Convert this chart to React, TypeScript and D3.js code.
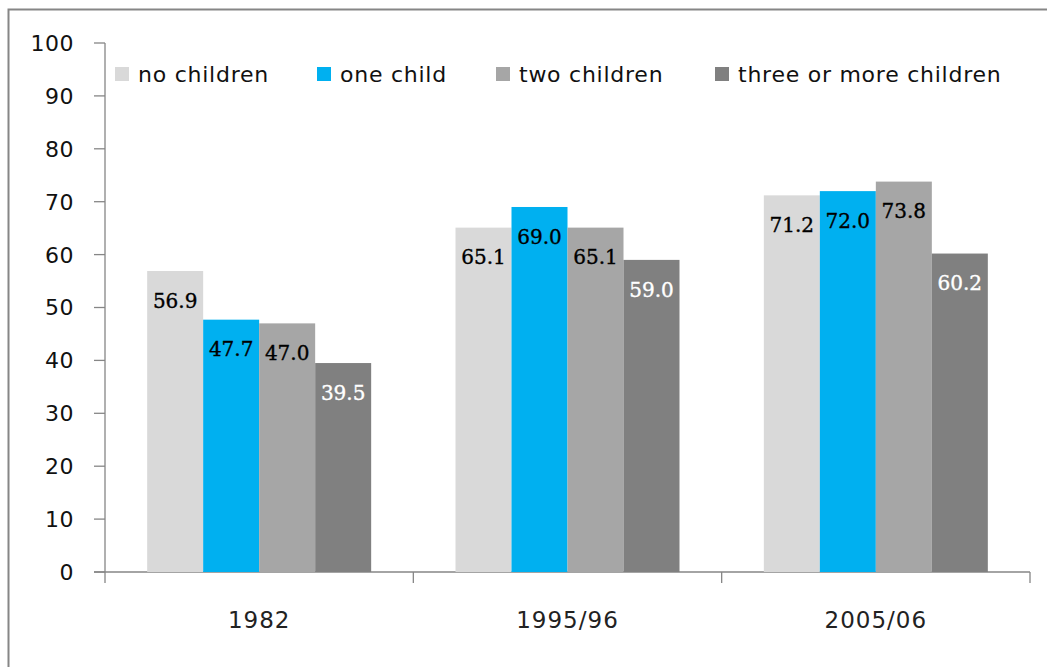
import React from "react";
import * as d3 from "d3";

const categories = ["1982", "1995/96", "2005/06"];
const seriesNames = ["no children", "one child", "two children", "three or more children"];
const noChildren = [56.9, 65.1, 71.2];
const oneChild = [47.7, 69.0, 72.0];
const twoChildren = [47.0, 65.1, 73.8];
const threeOrMore = [39.5, 59.0, 60.2];
const yTicks = [0, 10, 20, 30, 40, 50, 60, 70, 80, 90, 100];

const colors = ["#D9D9D9", "#00B0F0", "#A6A6A6", "#808080"];
const labelColors = ["#000", "#000", "#000", "#fff"];
const legendX = [115, 317, 496, 715];

export default function App() {
  const W = 1047, H = 667;
  const left = 105, right = 1030, top = 43, bottom = 572;
  const series = [noChildren, oneChild, twoChildren, threeOrMore];
  const x0 = d3.scaleBand().domain(categories).range([left, right]).paddingInner(0).paddingOuter(0);
  const barW = 56;
  const y = d3.scaleLinear().domain([0, 100]).range([bottom, top]);
  const font = "'DejaVu Sans', sans-serif";
  const axisColor = "#868686";

  return (
    <svg width={W} height={H} style={{ position: "absolute", left: 0, top: 0, background: "#fff" }}>
      <rect x={8.5} y={9.5} width={W + 20} height={H + 20} fill="none" stroke="#868686" strokeWidth={2} />
      {/* y axis */}
      <line x1={left} x2={left} y1={top} y2={bottom} stroke={axisColor} strokeWidth={1.3} />
      {yTicks.map((t) => (
        <g key={t}>
          <line x1={94} x2={left} y1={y(t)} y2={y(t)} stroke={axisColor} strokeWidth={1.3} />
          <text x={74} y={y(t)} dy="0.36em" textAnchor="end" fontFamily={font} fontSize={22} letterSpacing={0.5} fill="#111">
            {t}
          </text>
        </g>
      ))}
      {/* x axis */}
      <line x1={94} x2={right} y1={bottom} y2={bottom} stroke={axisColor} strokeWidth={1.3} />
      {[...categories.map((c) => x0(c)!), right].map((xv, i) => (
        <line key={i} x1={xv} x2={xv} y1={bottom} y2={bottom + 11} stroke={axisColor} strokeWidth={1.3} />
      ))}
      {categories.map((c) => (
        <text key={c} x={x0(c)! + x0.bandwidth() / 2} y={620} dy="0.36em" textAnchor="middle" fontFamily={font} fontSize={23} letterSpacing={1} fill="#222">
          {c}
        </text>
      ))}
      {/* bars */}
      {series.map((vals, si) =>
        vals.map((v, ci) => {
          const bx = x0(categories[ci])! + (x0.bandwidth() - barW * 4) / 2 + si * barW;
          return (
            <g key={`${si}-${ci}`}>
              <rect x={bx} y={y(v)} width={barW} height={bottom - y(v)} fill={colors[si]} />
              <text x={bx + barW / 2} y={y(v) + 29.5} dy="0.36em" textAnchor="middle" fontFamily="'DejaVu Serif', serif" fontSize={20} fill={labelColors[si]} stroke={labelColors[si]} strokeWidth={0.35}>
                {v.toFixed(1)}
              </text>
            </g>
          );
        })
      )}
      {/* legend */}
      {seriesNames.map((n, i) => (
        <g key={n}>
          <rect x={legendX[i]} y={67} width={14} height={14} fill={colors[i]} />
          <text x={legendX[i] + 23} y={74} dy="0.36em" fontFamily={font} fontSize={22} letterSpacing={0.75} fill="#111">
            {n}
          </text>
        </g>
      ))}
    </svg>
  );
}
